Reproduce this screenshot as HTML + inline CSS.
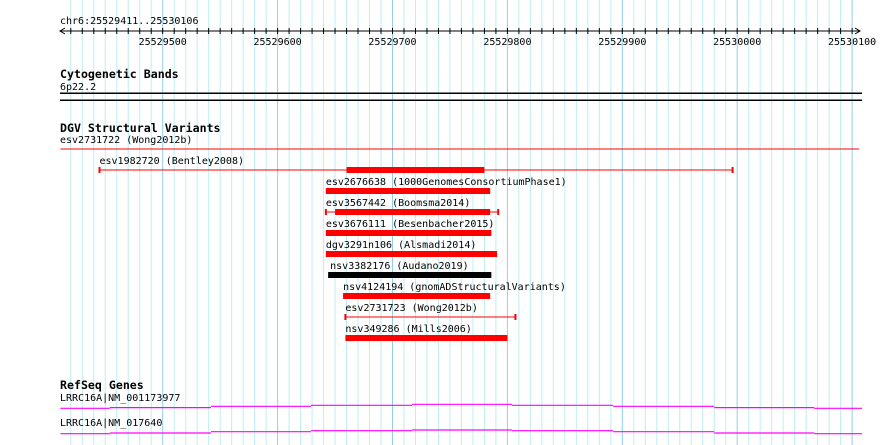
<!DOCTYPE html>
<html><head><meta charset="utf-8"><style>
html,body{margin:0;padding:0;background:#fff;}
svg{display:block;font-family:"DejaVu Sans Mono","Liberation Mono",monospace;}
.t{font-size:10px;fill:#000;}
.h{font-size:11.6px;font-weight:bold;fill:#000;}
</style></head><body>
<svg id="c" width="890" height="445" xmlns="http://www.w3.org/2000/svg">
<g id="grid"></g>
<g id="axis"></g>
<text class="t" x="60" y="24">chr6:25529411..25530106</text>
<text class="h" x="60" y="78">Cytogenetic Bands</text>
<text class="t" x="60" y="90">6p22.2</text>
<rect x="60" y="92.5" width="802" height="1.5" fill="#000"/>
<rect x="60" y="99.5" width="802" height="1.5" fill="#000"/>
<text class="h" x="60" y="132">DGV Structural Variants</text>
<g id="svs"></g>
<text class="h" x="60" y="389">RefSeq Genes</text>
<g id="genes"></g>
</svg>
<script>
const startBp = 25529411, endBp = 25530106;
const tickLabels = [25529500,25529600,25529700,25529800,25529900,25530000,25530100];
const svNames = ["esv2731722 (Wong2012b)","esv1982720 (Bentley2008)","esv2676638 (1000GenomesConsortiumPhase1)","esv3567442 (Boomsma2014)","esv3676111 (Besenbacher2015)","dgv3291n106 (Alsmadi2014)","nsv3382176 (Audano2019)","nsv4124194 (gnomADStructuralVariants)","esv2731723 (Wong2012b)","nsv349286 (Mills2006)"];
const svStart = [25529411,25529445,25529642,25529642,25529642,25529642,25529644,25529657,25529659,25529659];
const svEnd = [25530106,25529996,25529785,25529792,25529786,25529791,25529786,25529785,25529807,25529800];
const svThickStart = [null,25529660,25529642,25529650,25529642,25529642,25529644,25529657,null,25529659];
const svThickEnd = [null,25529780,25529785,25529785,25529786,25529791,25529786,25529785,null,25529800];
const svColor = ["red","red","red","red","red","red","black","red","red","red"];
const geneNames = ["LRRC16A|NM_001173977","LRRC16A|NM_017640"];
const stepBps = [25529411,25529454,25529542,25529629,25529717,25529804,25529892,25529980,25530067,25530111];
const gene1Y = [3.3,2.6,1.3,0.3,-0.7,0.3,1.3,2.6,3.3];
const gene2Y = [3.7,3.0,1.7,0.7,0,0.7,1.7,3.0,3.7];

const NS="http://www.w3.org/2000/svg";
function x(bp){return 162.7+(bp-25529500)*1.149;}
function mk(tag,attrs,parent){const e=document.createElementNS(NS,tag);for(const k in attrs)e.setAttribute(k,attrs[k]);parent.appendChild(e);return e;}
const grid=document.getElementById('grid'), axis=document.getElementById('axis');
for(let bp=25529420;bp<=endBp;bp+=10){
  const major=bp%100===0;
  const l=mk('line',{x1:x(bp),x2:x(bp),y1:0,y2:445,stroke:major?'#93cdf0':'#bdeef4','stroke-width':1},grid);
  
  
  const t=mk('line',{x1:x(bp),x2:x(bp),y1:28,y2:34,stroke:'#000'},axis);
  
  
}
const al=mk('line',{x1:60,x2:860,y1:31,y2:31,stroke:'#000'},axis);


mk('path',{d:'M65,28 L60,31 L65,34 M855,28 L860,31 L855,34',stroke:'#000',fill:'none'},axis);
tickLabels.forEach(v=>{
  const t=mk('text',{x:x(v),y:45,'text-anchor':'middle',class:'t'},axis);
  t.textContent=v;
  
  
});
const svs=document.getElementById('svs');
svNames.forEach((n,i)=>{
  const g=mk('g',{},svs);
  
  
  let ly, y;
  if(i===0){ly=143;y=149;}
  else if(i===1){ly=164;y=170;}
  else {ly=185+(i-2)*21;y=ly+6;}
  const lx = i===0?60:(i===1?x(svStart[i]):x(svStart[i])+(i===6?2:0));
  const t=mk('text',{x:lx,y:ly,class:'t'},g);
  t.textContent=n;
  
  
  const c=svColor[i];
  const x1=x(svStart[i]),x2=x(svEnd[i]);
  mk('line',{x1:x1,x2:x2,y1:y,y2:y,stroke:c,'stroke-width':1},g);
  if(i>0&&(svThickStart[i]===null||svThickStart[i]>svStart[i]||svThickEnd[i]<svEnd[i])){
    mk('line',{x1:x1,x2:x1,y1:y-3,y2:y+3,stroke:c,'stroke-width':2},g);
    mk('line',{x1:x2,x2:x2,y1:y-3,y2:y+3,stroke:c,'stroke-width':2},g);
  }
  if(svThickStart[i]!==null){
    const r=mk('rect',{x:x(svThickStart[i]),y:y-3,width:x(svThickEnd[i])-x(svThickStart[i]),height:6,fill:c},g);
    
    
  }
});
const genes=document.getElementById('genes');
[[gene1Y,405,401],[gene2Y,430,426]].forEach((gd,gi)=>{
  const g=mk('g',{},genes);
  
  
  const t=mk('text',{x:60,y:gd[2],class:'t','font-size':'10'},g);
  t.textContent=geneNames[gi];
  
  
  for(let k=0;k<gd[0].length;k++){
    const xa=Math.max(60,x(stepBps[k])), xb=Math.min(862,x(stepBps[k+1]));
    const yy=gd[1]+gd[0][k];
    mk('line',{x1:xa,x2:xb,y1:yy,y2:yy,stroke:'#f0f','stroke-width':1.2},g);
  }
});
</script>
</body></html>
